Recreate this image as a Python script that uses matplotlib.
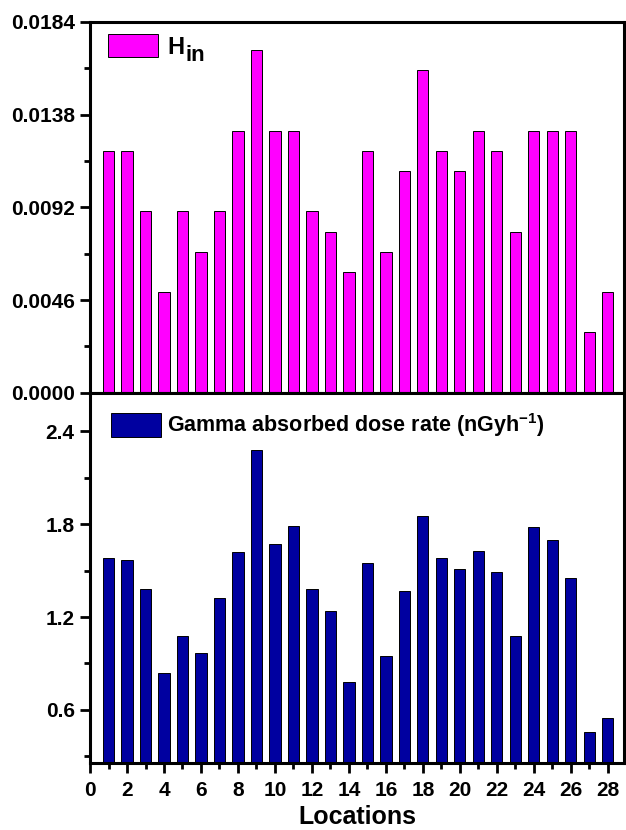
import numpy as np
import matplotlib
matplotlib.use('Agg')
import matplotlib.pyplot as plt
from matplotlib.ticker import FixedLocator, MultipleLocator

plt.rcParams['font.family'] = ['Liberation Sans', 'DejaVu Sans']
plt.rcParams['font.weight'] = 'bold'
plt.rcParams['mathtext.fontset'] = 'custom'
plt.rcParams['mathtext.rm'] = 'Liberation Sans:bold'
plt.rcParams['mathtext.bf'] = 'Liberation Sans:bold'
plt.rcParams['mathtext.it'] = 'Liberation Sans:bold'

# data
locations = np.arange(1, 29)
h_in = [0.012, 0.012, 0.009, 0.005, 0.009, 0.007, 0.009, 0.013, 0.017, 0.013,
        0.013, 0.009, 0.008, 0.006, 0.012, 0.007, 0.011, 0.016, 0.012, 0.011,
        0.013, 0.012, 0.008, 0.013, 0.013, 0.013, 0.003, 0.005]
gamma_dose = [1.58, 1.57, 1.38, 0.84, 1.08, 0.97, 1.32, 1.62, 2.28, 1.67,
              1.79, 1.38, 1.24, 0.78, 1.55, 0.95, 1.37, 1.85, 1.58, 1.51,
              1.63, 1.49, 1.08, 1.78, 1.70, 1.45, 0.46, 0.55]
h_ticks = [0.0, 0.0046, 0.0092, 0.0138, 0.0184]
h_tick_labels = ['0.0000', '0.0046', '0.0092', '0.0138', '0.0184']
g_ticks = [0.6, 1.2, 1.8, 2.4]
g_tick_labels = ['0.6', '1.2', '1.8', '2.4']

fig = plt.figure(figsize=(6.26, 8.30), dpi=100)
ax1 = fig.add_axes([0.1438, 0.5269, 0.853, 0.4466])
ax2 = fig.add_axes([0.1438, 0.0804, 0.853, 0.4465])


def style_axes(ax):
    for sp in ax.spines.values():
        sp.set_linewidth(2.2)
    ax.tick_params(which='both', direction='out', width=2.0, labelsize=15,
                   top=False, right=False, pad=3.5)
    ax.tick_params(which='major', length=7.5)
    ax.tick_params(which='minor', length=4)
    ax.set_xlim(0, 28.87)
    ax.xaxis.set_major_locator(MultipleLocator(2))
    ax.xaxis.set_minor_locator(MultipleLocator(1))


ax1.bar(locations, h_in, width=0.6, color='#FF00FF', edgecolor='black',
        linewidth=0.7, label='H')
style_axes(ax1)
ax1.set_ylim(0, 0.0184)
ax1.yaxis.set_major_locator(FixedLocator(h_ticks))
ax1.set_yticklabels(h_tick_labels, fontweight='bold')
ax1.yaxis.set_minor_locator(MultipleLocator(0.0023))
ax1.tick_params(axis='x', labelbottom=False)
leg1 = ax1.legend(loc='upper left', bbox_to_anchor=(0.034, 0.968), frameon=False,
                  borderpad=0, borderaxespad=0, handlelength=2.1, handleheight=1.15,
                  handletextpad=0.4, prop={'size': 17, 'weight': 'bold'})
# subscript "in" at nearly full size, as in the original
# (zorder above the legend so the legend text is placed before this is drawn)
ax1.annotate('in', xy=(1, 0), xycoords=leg1.get_texts()[0],
             xytext=(0.5, -5.5), textcoords='offset points', va='bottom',
             fontsize=16, fontweight='bold', zorder=10)

ax2.bar(locations, gamma_dose, width=0.6, color='#0000A0', edgecolor='black',
        linewidth=0.7, label=r'Gamma absorbed dose rate (nGyh$^{-1}$)')
style_axes(ax2)
ax2.set_ylim(0.255, 2.65)
ax2.yaxis.set_major_locator(FixedLocator(g_ticks))
ax2.set_yticklabels(g_tick_labels, fontweight='bold')
ax2.yaxis.set_minor_locator(MultipleLocator(0.3))
ax2.set_xticks(range(0, 29, 2))
ax2.set_xticklabels([str(v) for v in range(0, 29, 2)], fontweight='bold')
ax2.tick_params(axis='x', pad=5)
ax2.set_xlabel('Locations', fontsize=18, fontweight='bold', labelpad=4)
ax2.legend(loc='upper left', bbox_to_anchor=(0.04, 0.95), frameon=False,
           borderpad=0, borderaxespad=0, handlelength=2.3, handleheight=1.3,
           handletextpad=0.3, prop={'size': 15.5, 'weight': 'bold'})

fig.savefig('out.png', dpi=100)
